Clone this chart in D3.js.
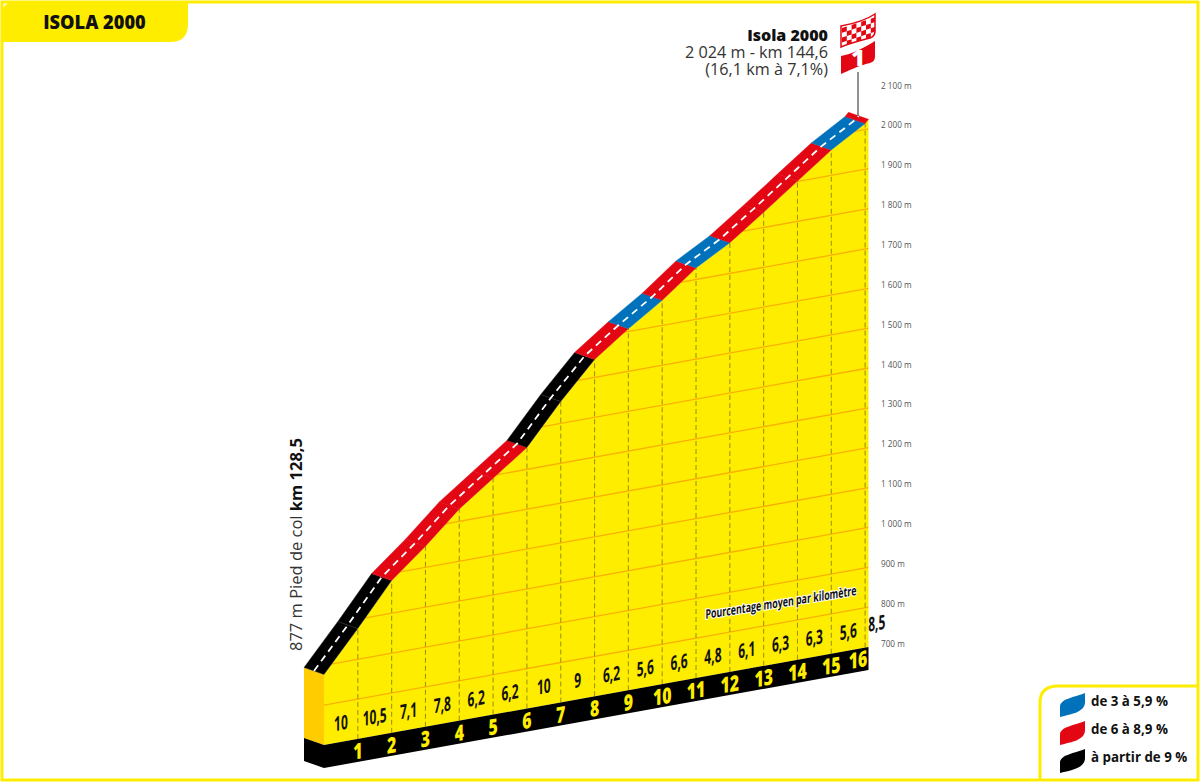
<!DOCTYPE html>
<html>
<head>
<meta charset="utf-8">
<title>Isola 2000</title>
<script src="https://cdn.jsdelivr.net/npm/d3@7"></script>
<style>
    html, body { margin: 0; padding: 0; background: #fff; }
    svg { display: block; font-family: "Open Sans", sans-serif; }
</style>
</head>
<body>
<svg id="chart" width="1200" height="782"></svg>
<script>
    "use strict";

    // values
    var kmPoints = [0, 1, 2, 3, 4, 5, 6, 7, 8, 9, 10, 11, 12, 13, 14, 15, 16, 16.1];
    var elevations = [877, 977, 1082, 1153, 1231, 1293, 1355, 1455, 1545, 1607, 1663, 1729, 1777, 1838, 1901, 1964, 2015, 2024];
    var grades = [10, 10.5, 7.1, 7.8, 6.2, 6.2, 10, 9, 6.2, 5.6, 6.6, 4.8, 6.1, 6.3, 6.3, 5.6, 8.5];
    var kmLabels = [1, 2, 3, 4, 5, 6, 7, 8, 9, 10, 11, 12, 13, 14, 15, 16];
    var elevTicks = [700, 800, 900, 1000, 1100, 1200, 1300, 1400, 1500, 1600, 1700, 1800, 1900, 2000, 2100];
    var gradeBreaks = [6, 9];
    var gradeColors = ["#0072bc", "#e30613", "#000000"];
    var legendLabels = ["de 3 à 5,9 %", "de 6 à 8,9 %", "à partir de 9 %"];

    var YELLOW = "#ffed00";
    var depth = [-20, -7];

    var svg = d3.select("#chart");

    var x = d3.scaleLinear().domain([0, 16.1]).range([324, 868.5]);
    // height of the elevation on the right edge of the profile
    var elevY = d3.scaleLinear().domain([700, 2100]).range([647, 89]);
    // the whole profile is sheared, the base climbs to the right
    var shear = d3.scaleLinear().domain([0, 16.1]).range([98, 0]);
    var color = d3.scaleThreshold().domain(gradeBreaks).range(gradeColors);

    function px(km, elev) {
        return [x(km), elevY(elev) + shear(km)];
    }

    function poly(points) {
        return points.map(function(p) { return p.join(","); }).join(" ");
    }

    function back(p) {
        return [p[0] + depth[0], p[1] + depth[1]];
    }

    function comma(v) {
        return String(v).replace(".", ",");
    }

    function thousands(v) {
        var s = String(v);
        return s.length > 3 ? s.slice(0, -3) + " " + s.slice(-3) : s;
    }

    var front = kmPoints.map(function(km, i) { return px(km, elevations[i]); });
    var baseStart = px(0, 700);
    var baseEnd = px(16.1, 700);
    var bandHeight = 23;

    // page frame and title tab
    svg.append("rect")
        .attr("x", 2).attr("y", 2)
        .attr("width", 1196).attr("height", 778)
        .attr("fill", "none")
        .attr("stroke", YELLOW)
        .attr("stroke-width", 3);

    svg.append("path")
        .attr("d", "M1,42 V18 Q1,1 18,1 H188 V24 Q188,42 170,42 Z")
        .attr("fill", YELLOW);

    condensed(svg, "ISOLA 2000", 94.5, 29, 20, 800, "#111", 0.91, "middle");

    // left side of the profile
    svg.append("polygon")
        .attr("points", poly([back(front[0]), front[0], baseStart, back(baseStart)]))
        .attr("fill", "#ffcc00");
    svg.append("polygon")
        .attr("points", poly([
            back(baseStart), baseStart,
            [baseStart[0], baseStart[1] + bandHeight],
            [back(baseStart)[0], back(baseStart)[1] + bandHeight]
        ]))
        .attr("fill", "#000");

    // yellow face
    var facePoints = [baseStart].concat(front).concat([baseEnd]);
    svg.append("clipPath").attr("id", "face")
        .append("polygon").attr("points", poly(facePoints));
    svg.append("polygon")
        .attr("points", poly(facePoints))
        .attr("fill", YELLOW);

    // sheared elevation lines
    svg.append("g").attr("clip-path", "url(#face)")
        .selectAll("line")
        .data(elevTicks.slice(1))
        .join("line")
        .attr("x1", x(0))
        .attr("y1", function(d) { return px(0, d)[1]; })
        .attr("x2", x(16.1))
        .attr("y2", function(d) { return px(16.1, d)[1]; })
        .attr("stroke", "#f9b000")
        .attr("stroke-width", 1.3);

    // km dashes
    svg.append("g")
        .selectAll("line")
        .data(kmLabels)
        .join("line")
        .attr("x1", function(d) { return x(d); })
        .attr("y1", function(d) { return px(d, 700)[1]; })
        .attr("x2", function(d) { return x(d); })
        .attr("y2", function(d) { return front[d][1]; })
        .attr("stroke", "#9f9610")
        .attr("stroke-width", 1.1)
        .attr("stroke-dasharray", "5,3");

    // black band under the face
    svg.append("polygon")
        .attr("points", poly([
            baseStart, baseEnd,
            [baseEnd[0], baseEnd[1] + bandHeight],
            [baseStart[0], baseStart[1] + bandHeight]
        ]))
        .attr("fill", "#000");

    // road, one polygon per km
    svg.append("g")
        .selectAll("polygon")
        .data(grades)
        .join("polygon")
        .attr("points", function(d, i) {
            return poly([front[i], front[i + 1], back(front[i + 1]), back(front[i])]);
        })
        .attr("fill", function(d) { return color(d); })
        .attr("stroke", function(d) { return d >= 9 ? "#2b2b2b" : color(d); })
        .attr("stroke-width", 0.4);

    svg.append("polyline")
        .attr("points", poly(front.map(function(p) {
            return [p[0] + depth[0] / 2, p[1] + depth[1] / 2];
        })))
        .attr("fill", "none")
        .attr("stroke", "#fff")
        .attr("stroke-width", 1.8)
        .attr("stroke-dasharray", "7,5");

    // elevation axis
    var axis = d3.axisRight(elevY)
        .tickValues(elevTicks)
        .tickSize(0)
        .tickPadding(3)
        .tickFormat(function(d) { return thousands(d) + " m"; });

    var axisG = svg.append("g")
        .attr("transform", "translate(878,-3.5)")
        .call(axis);
    axisG.select(".domain").remove();
    axisG.selectAll("text")
        .attr("font-family", "'Open Sans', sans-serif")
        .attr("font-size", 8.2)
        .attr("fill", "#555");

    // grade labels, in the middle of each km
    grades.forEach(function(g, i) {
        var km = (kmPoints[i] + kmPoints[i + 1]) / 2;
        var shift = i === 16 ? 10 : 0;
        var baseY = px(km, 700)[1];
        condensed(svg, comma(g), x(km) + shift, baseY - 12 + (i === 16 ? -5 : 0), 20, 700, "#111", 0.6, "middle", -10);
    });

    // km numbers in the band
    kmLabels.forEach(function(k) {
        var shift = k === 16 ? -7 : 0;
        condensed(svg, k, x(k) + shift, px(k, 700)[1] + 20, 22, 800, YELLOW, 0.72, "middle", -10);
    });

    var note = condensed(svg, "Pourcentage moyen par kilomètre", 781, 607, 13, 700, "#111", 0.68, "middle", -9);
    note.attr("stroke", "#fff").attr("stroke-width", 2.2).attr("paint-order", "stroke");

    // summit
    svg.append("line")
        .attr("x1", 858).attr("x2", 858)
        .attr("y1", 72).attr("y2", 116)
        .attr("stroke", "#222")
        .attr("stroke-width", 1);

    var flagTop = "M841,26 C852,24 866,20 875,14 V31 C875,37 871,38 866,39 C858,41 848,44 841,47 Z";
    var flagNum = "M841,56 C852,54 866,47 875,41 V56 C875,62 871,63 866,64 C858,66 848,71 841,74 Z";

    svg.append("clipPath").attr("id", "checks")
        .append("path").attr("d", flagTop);
    svg.append("path").attr("d", flagTop)
        .attr("fill", "#fff").attr("stroke", "#e30613").attr("stroke-width", 1.5);

    svg.append("g").attr("clip-path", "url(#checks)")
        .append("g")
        .attr("transform", "translate(842,28) skewY(-18)")
        .selectAll("rect")
        .data(d3.cross(d3.range(7), d3.range(4)).filter(function(c) { return (c[0] + c[1]) % 2 === 0; }))
        .join("rect")
        .attr("x", function(c) { return c[0] * 4.8; })
        .attr("y", function(c) { return c[1] * 4.8; })
        .attr("width", 4.8)
        .attr("height", 4.8)
        .attr("fill", "#e30613");

    svg.append("path").attr("d", flagNum).attr("fill", "#e30613");
    condensed(svg, "1", 858, 66, 23, 800, "#fff", 1.05, "middle");

    // summit label, three lines in one text
    var summit = svg.append("text")
        .attr("text-anchor", "end")
        .attr("font-size", 16.2)
        .attr("fill", "#333");
    summit.append("tspan")
        .attr("x", 828).attr("y", 41)
        .attr("font-size", 16)
        .attr("font-weight", 800)
        .attr("fill", "#111")
        .text("Isola 2000");
    summit.append("tspan")
        .attr("x", 828).attr("y", 58)
        .text("2 024 m - km 144,6");
    summit.append("tspan")
        .attr("x", 828).attr("y", 75)
        .text("(16,1 km à 7,1%)");

    // foot of the climb
    var foot = svg.append("text")
        .attr("transform", "translate(302,651) rotate(-90)")
        .attr("font-size", 16.5)
        .attr("fill", "#333");
    foot.append("tspan").text("877 m Pied de col ");
    foot.append("tspan").attr("font-weight", 700).attr("fill", "#111").text("km 128,5");

    // legend
    svg.append("path")
        .attr("d", "M1040,780 V703 Q1040,686 1058,686 H1198")
        .attr("fill", "none")
        .attr("stroke", YELLOW)
        .attr("stroke-width", 3);

    legendLabels.forEach(function(label, i) {
        var y = 717 + i * 28;
        svg.append("path")
            .attr("d", "M1060," + y + " V" + (y - 10) + " C1060," + (y - 18) + " 1072," + (y - 19) + " 1085," + (y - 24) +
                " V" + (y - 15) + " C1085," + (y - 5) + " 1072," + (y - 3) + " 1060," + y + " Z")
            .attr("fill", gradeColors[i]);
        condensed(svg, label, 1091, y - 11, 14.5, 700, "#111", 0.92, "start");
    });

    // no condensed face is installed, so squeeze a normal one
    function condensed(parent, label, tx, ty, size, weight, fill, squeeze, anchor, skew) {
        return parent.append("text")
            .attr("transform", "translate(" + tx + "," + ty + ")" +
                (skew ? " skewY(" + skew + ")" : "") + " scale(" + squeeze + ",1)")
            .attr("text-anchor", anchor)
            .attr("font-size", size)
            .attr("font-weight", weight)
            .attr("fill", fill)
            .text(label);
    }
</script>
</body>
</html>
